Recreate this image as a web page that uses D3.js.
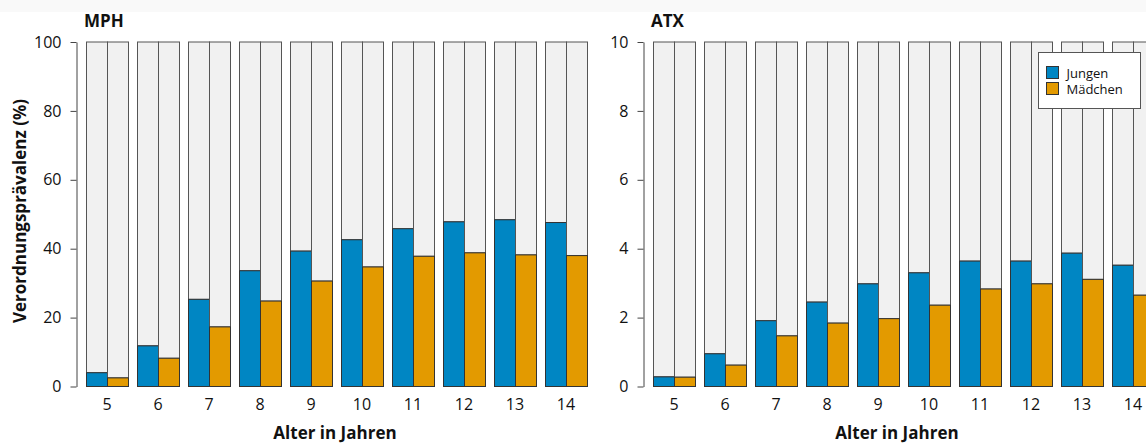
<!DOCTYPE html>
<html>
<head>
<meta charset="utf-8">
<script src="https://cdn.jsdelivr.net/npm/d3@7"></script>
<style>
  body { margin: 0; background: #fff; }
  text { font-family: "Open Sans", sans-serif; fill: #111; }
</style>
</head>
<body>
<div id="chart"></div>
<script>
const ages = [5, 6, 7, 8, 9, 10, 11, 12, 13, 14]
const groups = ['Jungen', 'Mädchen']
const mphJungen = [4.0, 11.8, 25.3, 33.6, 39.3, 42.6, 45.8, 47.8, 48.4, 47.6]
const mphMaedchen = [2.5, 8.2, 17.3, 24.8, 30.6, 34.7, 37.8, 38.8, 38.2, 38.0]
const atxJungen = [0.28, 0.95, 1.91, 2.45, 2.98, 3.30, 3.64, 3.64, 3.87, 3.52]
const atxMaedchen = [0.27, 0.62, 1.47, 1.84, 1.97, 2.36, 2.83, 2.98, 3.11, 2.65]
const mphTicks = [0, 20, 40, 60, 80, 100]
const atxTicks = [0, 2, 4, 6, 8, 10]

const colors = { Jungen: '#0086c3', 'Mädchen': '#e39a00' }
const w = 1146
const h = 443

const svg = d3.select('#chart').append('svg')
  .attr('width', w)
  .attr('height', h)

// faint band at the very top
svg.append('rect')
  .attr('x', 0).attr('y', 0)
  .attr('width', w).attr('height', 12)
  .attr('fill', '#f9f9f9')

const drawPanel = (opts) => {
  const { title, jungen, maedchen, max, ticks, axisX, left, labelX } = opts
  const g = svg.append('g')

  const x = d3.scaleBand().domain(ages)
    .range([left, left + 501])
    .paddingInner(9 / 51)
    .paddingOuter(0)
  const xs = d3.scaleBand().domain(groups).range([0, x.bandwidth()])
  const y = d3.scaleLinear().domain([0, max]).range([386, 41.5])

  const rows = ages.map((a, i) => ({ age: a, Jungen: jungen[i], 'Mädchen': maedchen[i] }))

  const grp = g.selectAll('g.age')
    .data(rows)
    .enter().append('g')
    .attr('class', 'age')
    .attr('transform', d => 'translate(' + x(d.age) + ',0)')

  groups.forEach(s => {
    // remainder (grey) part
    grp.append('rect')
      .attr('x', xs(s) + 0.5)
      .attr('y', y(max) + 0.5)
      .attr('width', xs.bandwidth())
      .attr('height', d => y(d[s]) - y(max))
      .attr('fill', '#f1f1f1')
      .attr('stroke', '#555')
      .attr('stroke-width', 1)
    grp.append('rect')
      .attr('x', xs(s) + 0.5)
      .attr('y', d => y(d[s]) + 0.5)
      .attr('width', xs.bandwidth())
      .attr('height', d => y(0) - y(d[s]))
      .attr('fill', colors[s])
      .attr('stroke', '#333')
      .attr('stroke-width', 1)
  })

  const yAxis = g.append('g')
    .attr('transform', 'translate(' + (axisX + 0.5) + ',0.5)')
    .call(d3.axisLeft(y).tickValues(ticks).tickSize(6).tickPadding(9).tickSizeOuter(0))
  yAxis.select('.domain').attr('stroke', '#444')
  yAxis.selectAll('.tick line').attr('stroke', '#444')
  yAxis.selectAll('.tick text')
    .attr('font-size', 16)
    .attr('font-family', 'Open Sans, sans-serif')
    .attr('fill', '#111')

  const xAxis = g.append('g')
    .attr('transform', 'translate(0,386)')
    .call(d3.axisBottom(x).tickSize(0).tickPadding(13))
  xAxis.select('.domain').remove()
  xAxis.selectAll('.tick text')
    .attr('font-size', 16)
    .attr('font-family', 'Open Sans, sans-serif')
    .attr('fill', '#111')

  g.append('text')
    .attr('x', left - 2)
    .attr('y', 27)
    .attr('font-size', 17)
    .attr('font-weight', 'bold')
    .text(title)

  g.append('text')
    .attr('x', labelX)
    .attr('y', 439)
    .attr('text-anchor', 'middle')
    .attr('font-size', 17)
    .attr('font-weight', 'bold')
    .text('Alter in Jahren')
}

drawPanel({ title: 'MPH', jungen: mphJungen, maedchen: mphMaedchen, max: 100, ticks: mphTicks, axisX: 76, left: 86, labelX: 335 })
drawPanel({ title: 'ATX', jungen: atxJungen, maedchen: atxMaedchen, max: 10, ticks: atxTicks, axisX: 643, left: 653, labelX: 897 })

svg.append('text')
  .attr('transform', 'translate(26,211) rotate(-90)')
  .attr('text-anchor', 'middle')
  .attr('font-size', 17)
  .attr('font-weight', 'bold')
  .text('Verordnungsprävalenz (%)')

// legend
const legend = svg.append('g').attr('transform', 'translate(1038.5,52.5)')
legend.append('rect')
  .attr('width', 102).attr('height', 56)
  .attr('fill', '#fff').attr('stroke', '#555')
groups.forEach((s, i) => {
  legend.append('rect')
    .attr('x', 8).attr('y', 14 + i * 16)
    .attr('width', 12).attr('height', 12)
    .attr('fill', colors[s]).attr('stroke', '#333')
  legend.append('text')
    .attr('x', 28).attr('y', 25 + i * 16)
    .attr('font-size', 13)
    .text(s)
})
</script>
</body>
</html>
